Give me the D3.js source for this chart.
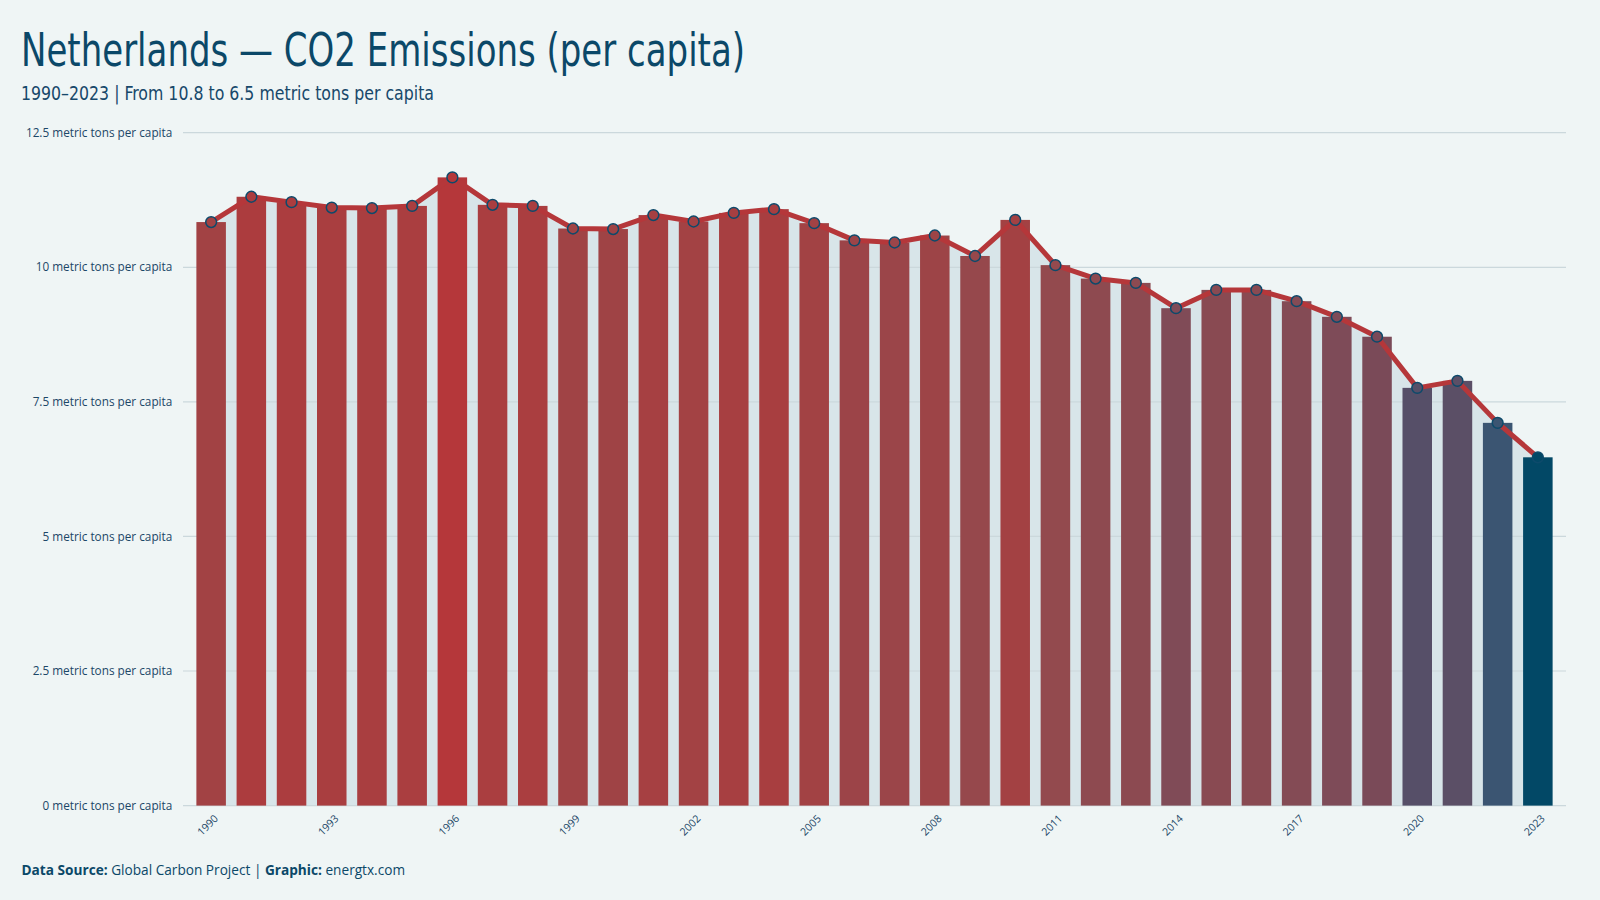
<!DOCTYPE html>
<html><head><meta charset="utf-8">
<script src="https://cdn.jsdelivr.net/npm/d3@7"></script>
<style>body{margin:0;background:#eff5f5}</style>
</head><body>
<svg id="c" width="1600" height="900"></svg>
<script>
const years = [1990,1991,1992,1993,1994,1995,1996,1997,1998,1999,2000,2001,2002,2003,2004,2005,2006,2007,2008,2009,2010,2011,2012,2013,2014,2015,2016,2017,2018,2019,2020,2021,2022,2023];
const values = [10.84,11.31,11.21,11.11,11.10,11.14,11.67,11.16,11.14,10.72,10.71,10.97,10.85,11.01,11.08,10.82,10.50,10.46,10.59,10.21,10.88,10.04,9.79,9.71,9.24,9.58,9.58,9.37,9.08,8.71,7.76,7.89,7.11,6.47];
const yTicks = [0,2.5,5,7.5,10,12.5];
const xTickYears = [1990,1993,1996,1999,2002,2005,2008,2011,2014,2017,2020,2023];
const unit = "metric tons per capita";
const titleText = "Netherlands — CO2 Emissions (per capita)";
const subtitleText = "1990–2023 | From 10.8 to 6.5 metric tons per capita";

const data = years.map((y,i)=>({year:y, value:values[i]}));
const svg = d3.select("#c");
const W=1600,H=900;
svg.append("rect").attr("width",W).attr("height",H).attr("fill","#eff5f5");

const x = d3.scaleBand().domain(years).range([183,1566]).paddingInner(0.266).paddingOuter(0.333);
const y = d3.scaleLinear().domain([0,12.5]).range([805.6,132.7]);

const colorStopV = [6.47,7.11,7.8,8.71,9.2,9.6,10.1,10.5,10.75,11.1,11.35,11.67];
const colorStopC = ["#024866","#3b5572","#574f67","#7a4a58","#7f4b58","#8a4a52","#944a4e","#9c4448","#a04345","#a93e40","#ad3c3e","#b5373a"];
const color = d3.scaleLinear().domain(colorStopV).range(colorStopC).interpolate(d3.interpolateLab).clamp(true);

const cx = d => x(d.year)+x.bandwidth()/2;

// area
svg.append("path").datum(data)
  .attr("d", d3.area().x(cx).y0(y(0)).y1(d=>y(d.value)))
  .attr("fill","#d8e5e9");

// grid
svg.append("g").selectAll("line").data(yTicks).join("line")
  .attr("x1",183).attr("x2",1566)
  .attr("y1",d=>y(d)).attr("y2",d=>y(d))
  .attr("stroke","#cbd8dc").attr("stroke-width",1.2);

// y labels
const yl = svg.append("g").selectAll("text").data(yTicks).join("text")
  .attr("x",172.3).attr("y",d=>y(d)).attr("dy","0.35em")
  .attr("text-anchor","end")
  .attr("font-family","'Open Sans','Noto Sans',sans-serif")
  .attr("font-size",11).attr("fill","#1c4767")
  .text(d=>`${d} ${unit}`);
const refNode = yl.filter(d=>d===12.5).node();
const wRef = refNode.getComputedTextLength();
yl.attr("font-size", 11*146.6/wRef);

// bars
svg.append("g").selectAll("rect").data(data).join("rect")
  .attr("x",d=>x(d.year)).attr("width",x.bandwidth())
  .attr("y",d=>y(d.value)).attr("height",d=>y(0)-y(d.value))
  .attr("fill",d=>color(d.value));

// line
svg.append("path").datum(data)
  .attr("d", d3.line().x(cx).y(d=>y(d.value)))
  .attr("fill","none").attr("stroke","#b5373a").attr("stroke-width",5)
  .attr("stroke-linejoin","round").attr("stroke-linecap","round");

// points
svg.append("g").selectAll("circle").data(data).join("circle")
  .attr("cx",cx).attr("cy",d=>y(d.value)).attr("r",5.4)
  .attr("fill",d=>color(d.value)).attr("stroke","#0d4a6b").attr("stroke-width",1.5);

// x labels
svg.append("g").selectAll("text").data(xTickYears).join("text")
  .attr("transform",d=>`translate(${x(d)+x.bandwidth()/2+5},${y(0)+11}) rotate(-45)`)
  .attr("text-anchor","end").attr("dy","0.35em")
  .attr("font-family","'Open Sans','Noto Sans',sans-serif")
  .attr("font-size",10.5).attr("fill","#1c4767")
  .text(d=>d);

// titles
svg.append("text").attr("x",21).attr("y",66)
  .attr("font-family","'DejaVu Sans Condensed','Liberation Sans Narrow',sans-serif")
  .attr("font-size",46).attr("fill","#0b4868")
  .attr("textLength",724).attr("lengthAdjust","spacingAndGlyphs")
  .text(titleText);
svg.append("text").attr("x",21).attr("y",100)
  .attr("font-family","'DejaVu Sans Condensed','Liberation Sans Narrow',sans-serif")
  .attr("font-size",20).attr("fill","#17486a")
  .attr("textLength",413).attr("lengthAdjust","spacingAndGlyphs")
  .text(subtitleText);

// footer
const ft = svg.append("text").attr("x",21.5).attr("y",875)
  .attr("font-family","'Open Sans','Noto Sans',sans-serif")
  .attr("font-size",14).attr("fill","#0b4868");
ft.append("tspan").attr("font-weight","bold").text("Data Source:");
ft.append("tspan").text(" Global Carbon Project | ");
ft.append("tspan").attr("font-weight","bold").text("Graphic:");
ft.append("tspan").text(" energtx.com");
const fw = ft.node().getComputedTextLength();
ft.attr("font-size", 14*384/fw);
</script>
</body></html>
